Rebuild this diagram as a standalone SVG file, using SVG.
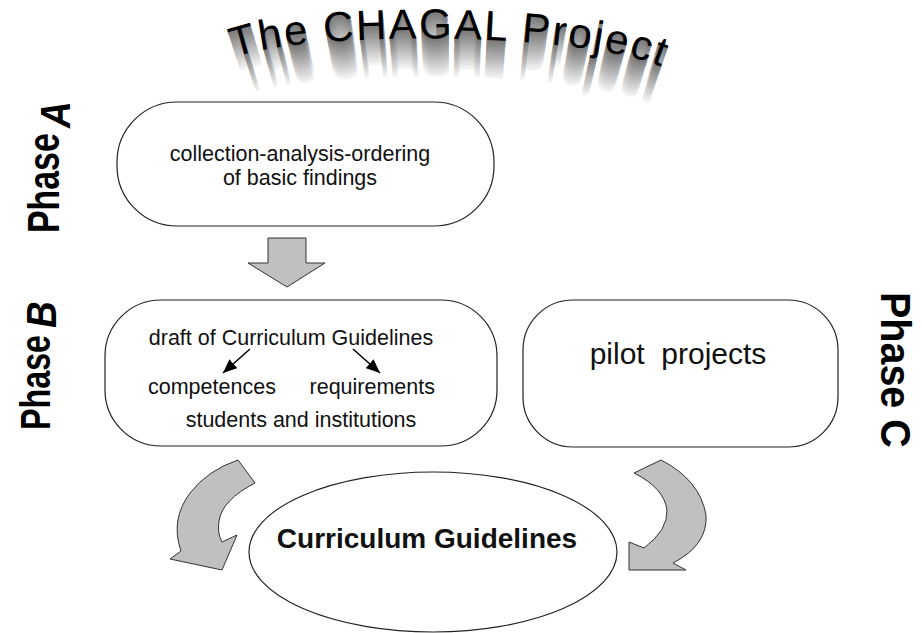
<svg xmlns="http://www.w3.org/2000/svg" width="922" height="633" viewBox="0 0 922 633">
  <style>
    .lbl { font-family: "Liberation Sans", Arial, sans-serif; fill: #111; }
    .box { fill: #fff; stroke: #222; stroke-width: 1.2; }
    .block { fill: #c0c0c0; stroke: #333; stroke-width: 1; stroke-linejoin: round; }
    .phase { font-family: "Liberation Sans", Arial, sans-serif; font-weight: bold; fill: #000; }
    .ttl { font-family: "Liberation Sans", Arial, sans-serif; font-size: 42px; letter-spacing: 2px; }
  </style>
  <defs>
    <path id="arc" d="M234,58 C300,30 600,30 672,72"/>
    <marker id="tip" viewBox="0 0 14 12" refX="14" refY="6" markerWidth="14" markerHeight="12" markerUnits="userSpaceOnUse" orient="auto">
      <path d="M0,0 L14,6 L0,12 z" fill="#000"/>
    </marker>
  </defs>
  <rect width="922" height="633" fill="#fff"/>

  <!-- arched title; the grey extrusion is the same text scaled toward a point far below -->
  <g id="title">
    <g class="extrude">
      <use href="#ttl" fill="#f4f4f4" transform="translate(450 700) scale(0.94233) translate(-450 -700)"/>
      <use href="#ttl" fill="#ededed" transform="translate(450 700) scale(0.94545) translate(-450 -700)"/>
      <use href="#ttl" fill="#e6e6e6" transform="translate(450 700) scale(0.94857) translate(-450 -700)"/>
      <use href="#ttl" fill="#dfdfdf" transform="translate(450 700) scale(0.95171) translate(-450 -700)"/>
      <use href="#ttl" fill="#d8d8d8" transform="translate(450 700) scale(0.95485) translate(-450 -700)"/>
      <use href="#ttl" fill="#d1d1d1" transform="translate(450 700) scale(0.95801) translate(-450 -700)"/>
      <use href="#ttl" fill="#cacaca" transform="translate(450 700) scale(0.96117) translate(-450 -700)"/>
      <use href="#ttl" fill="#c3c3c3" transform="translate(450 700) scale(0.96435) translate(-450 -700)"/>
      <use href="#ttl" fill="#bcbcbc" transform="translate(450 700) scale(0.96754) translate(-450 -700)"/>
      <use href="#ttl" fill="#b5b5b5" transform="translate(450 700) scale(0.97073) translate(-450 -700)"/>
      <use href="#ttl" fill="#aeaeae" transform="translate(450 700) scale(0.97394) translate(-450 -700)"/>
      <use href="#ttl" fill="#a7a7a7" transform="translate(450 700) scale(0.97716) translate(-450 -700)"/>
      <use href="#ttl" fill="#a0a0a0" transform="translate(450 700) scale(0.98039) translate(-450 -700)"/>
      <use href="#ttl" fill="#999999" transform="translate(450 700) scale(0.98364) translate(-450 -700)"/>
      <use href="#ttl" fill="#929292" transform="translate(450 700) scale(0.98689) translate(-450 -700)"/>
      <use href="#ttl" fill="#8b8b8b" transform="translate(450 700) scale(0.99015) translate(-450 -700)"/>
      <use href="#ttl" fill="#848484" transform="translate(450 700) scale(0.99342) translate(-450 -700)"/>
      <use href="#ttl" fill="#7d7d7d" transform="translate(450 700) scale(0.99671) translate(-450 -700)"/>
    </g>
    <g fill="#000">
      <text id="ttl" class="ttl"><textPath href="#arc">The CHAGAL Project</textPath></text>
    </g>
  </g>

  <!-- phase labels -->
  <g id="phase-a">
    <text class="phase" font-size="44" transform="translate(59 233) rotate(-90) scale(0.77 1)">Phase</text>
    <text class="phase" font-size="42" font-style="italic" transform="translate(70 128) rotate(-90) scale(0.88 1)">A</text>
  </g>
  <g id="phase-b">
    <text class="phase" font-size="43" transform="translate(50 430) rotate(-90) scale(0.75 1)">Phase</text>
    <text class="phase" font-size="42" font-style="italic" transform="translate(56 328) rotate(-90) scale(0.88 1)">B</text>
  </g>
  <g id="phase-c">
    <text class="phase" font-size="42" transform="translate(881 292) rotate(90) scale(0.94 1)">Phase C</text>
  </g>

  <!-- process boxes -->
  <g id="collection">
    <rect class="box" x="117" y="102" width="377" height="124" rx="60" ry="60"/>
    <text class="lbl" font-size="21.5" text-anchor="middle" x="300" y="161">collection-analysis-ordering</text>
    <text class="lbl" font-size="21.5" text-anchor="middle" x="300" y="185">of basic findings</text>
  </g>

  <g id="draft">
    <rect class="box" x="105" y="300" width="392" height="146" rx="56" ry="56"/>
    <text class="lbl" font-size="21.5" text-anchor="middle" x="291" y="345">draft of Curriculum Guidelines</text>
    <text class="lbl" font-size="21.5" x="148" y="394">competences</text>
    <text class="lbl" font-size="21.5" text-anchor="end" x="435" y="394">requirements</text>
    <text class="lbl" font-size="21.5" text-anchor="middle" x="301" y="427">students and institutions</text>
  </g>

  <g id="pilot">
    <rect class="box" x="523" y="300" width="315" height="147" rx="50" ry="50"/>
    <text class="lbl" font-size="30" text-anchor="middle" x="678" y="364" style="white-space:pre">pilot  projects</text>
  </g>

  <g id="guidelines">
    <ellipse class="box" cx="433" cy="552" rx="184" ry="80"/>
    <text class="lbl" font-size="28" font-weight="bold" text-anchor="middle" x="427" y="548">Curriculum Guidelines</text>
  </g>

  <!-- connectors -->
  <g id="connectors">
    <polygon class="block" points="268,238 306,238 306,263 325,263 287,287 248,263 268,263"/>
    <path class="block" d="M238,460 L255,483 Q222,500 219,521 Q217,533 222,542 L237,535 L222,570 L170,559 L181,551 Q170,520 190,493 Q208,470 238,460 Z"/>
    <path class="block" d="M634,473 L661,460 Q700,480 706,515 Q708,545 673,563 L686,570 L629,570 L629,542 L644,548 Q668,530 667,510 Q664,488 634,473 Z"/>
    <line x1="250" y1="349" x2="223" y2="373" stroke="#000" stroke-width="1.5" marker-end="url(#tip)"/>
    <line x1="353" y1="349" x2="380" y2="373" stroke="#000" stroke-width="1.5" marker-end="url(#tip)"/>
  </g>
</svg>
